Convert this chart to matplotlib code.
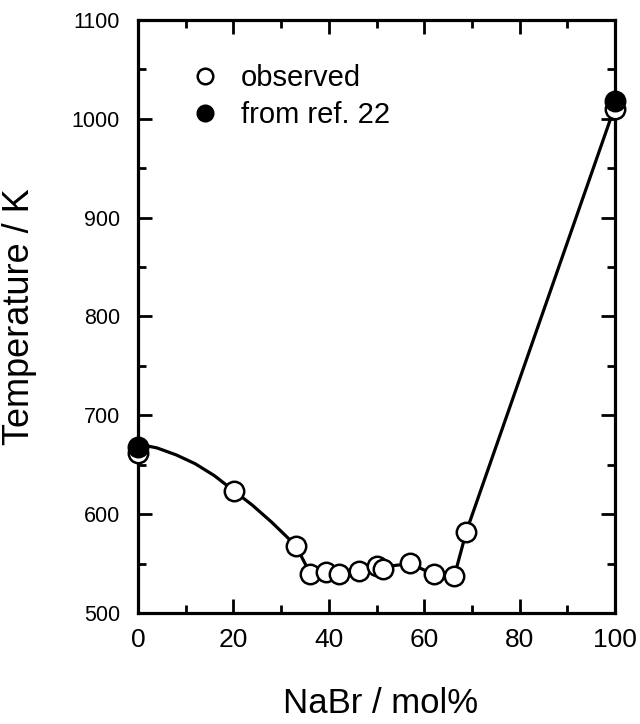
import matplotlib
matplotlib.use("Agg")
import matplotlib.pyplot as plt
from matplotlib.ticker import MultipleLocator

plt.rcParams['font.family'] = ['Liberation Sans', 'DejaVu Sans']

# observed liquidus points (NaBr mol%, K)
obs_x = [0, 20.1, 33.1, 36.1, 39.4, 42.2, 46.4, 50.2, 51.3, 57.1, 62.0, 66.3, 68.8, 100]
obs_t = [662, 623.6, 567.9, 539.9, 541.2, 539.2, 542.2, 547.3, 544.6, 550.3, 539.2, 537.2, 582.1, 1010]

# literature melting points
ref_x = [0, 100]
ref_t = [668, 1018]

# guide line drawn through the data
curve_x = [0, 4, 8, 12, 16, 20, 24, 28, 31, 33.1, 36.1, 39.4, 42.2, 46.4, 50.2, 57.1, 62.0, 66.3, 68.8, 100]
curve_t = [671, 667, 660, 651, 639, 624, 609, 592, 578, 568, 540, 541, 539, 542, 546, 550, 539, 537, 582, 1013]

fig = plt.figure(figsize=(6.4, 7.24), dpi=100)
ax = fig.add_axes([0.2156, 0.1533, 0.7454, 0.8191])

ax.plot(curve_x, curve_t, color='black', lw=2.3, zorder=2)
h_obs, = ax.plot(obs_x, obs_t, 'o', ms=14, mfc='white', mec='black', mew=1.8,
                 zorder=3, clip_on=False, label='observed')
h_ref, = ax.plot(ref_x, ref_t, 'o', ms=14, mfc='black', mec='black', mew=1.8,
                 zorder=4, clip_on=False, label='from ref. 22')

ax.set_xlim(0, 100)
ax.set_ylim(500, 1100)
ax.xaxis.set_major_locator(MultipleLocator(20))
ax.xaxis.set_minor_locator(MultipleLocator(10))
ax.yaxis.set_major_locator(MultipleLocator(100))
ax.yaxis.set_minor_locator(MultipleLocator(50))

ax.tick_params(which='both', direction='in', top=True, right=True, width=2, color='black')
ax.tick_params(which='major', length=10)
ax.tick_params(which='minor', length=6)
ax.tick_params(axis='x', which='major', labelsize=19, pad=11)
ax.tick_params(axis='y', which='major', labelsize=15.5, pad=13)
for s in ax.spines.values():
    s.set_linewidth(2.3)

ax.set_ylabel('Temperature / K', fontsize=26)
ax.set_xlabel('NaBr / mol%', fontsize=25)
ax.yaxis.set_label_coords(-0.212, 0.5)
ax.xaxis.set_label_coords(0.509, -0.125)

ax.legend(handles=[h_obs, h_ref], loc='upper left', bbox_to_anchor=(0.109, 0.925),
          frameon=False, fontsize=21, handlelength=1.0, handletextpad=0.75,
          labelspacing=0.3, borderpad=0, borderaxespad=0, markerscale=0.8)

fig.savefig('out.png', dpi=100)
